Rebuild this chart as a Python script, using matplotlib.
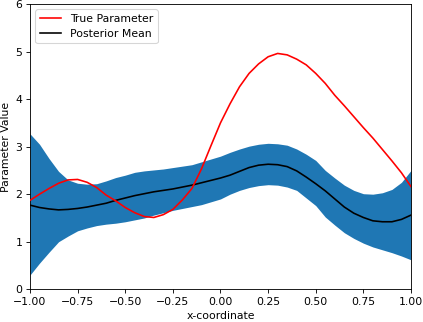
import numpy as np
import matplotlib
matplotlib.use("Agg")
import matplotlib.pyplot as plt

x = np.linspace(-1.0, 1.0, 41)

true_param = [1.87, 2.00, 2.12, 2.23, 2.30, 2.31, 2.25, 2.14, 1.98, 1.86,
              1.72, 1.61, 1.53, 1.51, 1.57, 1.68, 1.88, 2.12, 2.53, 3.02,
              3.50, 3.90, 4.26, 4.54, 4.74, 4.89, 4.96, 4.93, 4.84, 4.72,
              4.54, 4.33, 4.08, 3.86, 3.63, 3.40, 3.18, 2.94, 2.70, 2.45,
              2.16]

post_mean = [1.77, 1.72, 1.69, 1.67, 1.68, 1.70, 1.73, 1.77, 1.81, 1.87,
             1.92, 1.97, 2.01, 2.05, 2.08, 2.11, 2.15, 2.19, 2.24, 2.29,
             2.34, 2.40, 2.48, 2.56, 2.61, 2.63, 2.62, 2.58, 2.49, 2.36,
             2.22, 2.07, 1.90, 1.73, 1.60, 1.51, 1.44, 1.42, 1.42, 1.47,
             1.56]

upper = [3.27, 3.05, 2.75, 2.48, 2.30, 2.23, 2.21, 2.22, 2.28, 2.35,
         2.40, 2.46, 2.49, 2.51, 2.53, 2.56, 2.59, 2.62, 2.68, 2.74,
         2.80, 2.88, 2.95, 3.01, 3.05, 3.07, 3.06, 3.03, 2.95, 2.84,
         2.71, 2.50, 2.34, 2.19, 2.08, 2.01, 2.00, 2.03, 2.10, 2.25,
         2.50]

lower = [0.30, 0.55, 0.78, 1.00, 1.12, 1.23, 1.29, 1.34, 1.37, 1.39,
         1.42, 1.46, 1.50, 1.56, 1.61, 1.66, 1.70, 1.74, 1.78, 1.84,
         1.90, 2.00, 2.08, 2.14, 2.18, 2.20, 2.19, 2.15, 2.08, 1.92,
         1.76, 1.52, 1.35, 1.19, 1.07, 0.97, 0.89, 0.83, 0.77, 0.70,
         0.62]

# the reference looks like a default figure scaled down, so use a low dpi
dpi = 78
fig = plt.figure(figsize=(423 / dpi, 322 / dpi), dpi=dpi)
ax = fig.add_axes([0.0709, 0.1016, 0.9007, 0.886])

ax.fill_between(x, lower, upper, color='#1f77b4', linewidth=0)
ax.plot(x, true_param, color='red', label='True Parameter', zorder=3)
ax.plot(x, post_mean, color='black', label='Posterior Mean', zorder=2)

ax.set_xlim(-1, 1)
ax.set_ylim(0, 6)
ax.set_xlabel('x-coordinate')
ax.set_ylabel('Parameter Value')
ax.legend(loc='upper left')

fig.savefig('out.png', dpi=dpi)
